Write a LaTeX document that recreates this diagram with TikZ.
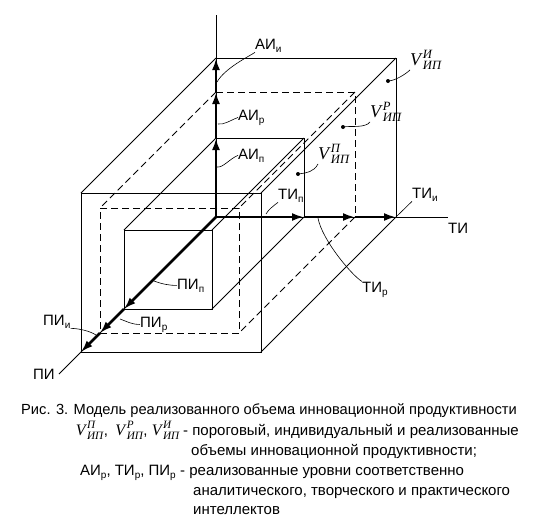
\documentclass[tikz,border=0pt]{standalone}
\usepackage{fontspec}
\usepackage{amsmath}
\setmainfont{Liberation Sans}
\newfontfamily\volfont{Liberation Serif}
\usetikzlibrary{arrows.meta,calc}

% lowered index of a level, e.g. AI_p
\newcommand{\subidx}[1]{\raisebox{-0.4ex}{\fontsize{10}{10}\selectfont #1}}
% volume symbol V^{#2}_{IP}
\newcommand{\Vol}[2][18]{{\fontsize{#1}{#1}\selectfont\volfont\itshape V\/$^{\text{\volfont\itshape #2}}_{\text{\volfont\itshape ИП}}$}}

\begin{document}
\begin{tikzpicture}[x=1pt, y=1pt,
    edge/.style={line width=0.8pt},
    hidden/.style={line width=0.8pt, dash pattern=on 7pt off 4pt},
    level/.style={line width=2.8pt, -{Latex[length=12pt,width=8pt]}},
    leader/.style={line width=0.6pt},
    lbl/.style={font=\fontsize{15}{16}\selectfont, inner sep=0pt, anchor=base west},
    vdot/.style={circle, fill, inner sep=0pt, minimum size=4pt},
    capline/.style={font=\fontsize{15}{17}\selectfont, inner sep=0pt, anchor=base west}]

\useasboundingbox (0,0) rectangle (542,-520);

% oblique frame: x = TI, y = AI, z = PI
\begin{scope}[shift={(216,-217)}, x={(1pt,0pt)}, y={(0pt,1pt)}, z={(-1pt,-1pt)}]
  % threshold, realized (dashed) and individual volumes
  \foreach \w/\h/\d/\lstyle in {88/79/92/edge, 139/125/116/hidden, 180/159/135/edge}{
    \draw[\lstyle] (0,\h,0) -- (\w,\h,0) -- (\w,0,0);
    \draw[\lstyle] (0,0,\d) -- (\w,0,\d) -- (\w,\h,\d) -- (0,\h,\d) -- cycle;
    \draw[\lstyle] (0,\h,0) -- (0,\h,\d);
    \draw[\lstyle] (\w,\h,0) -- (\w,\h,\d);
    \draw[\lstyle] (\w,0,0) -- (\w,0,\d);
  }

  \coordinate (O) at (0,0,0);
  \coordinate (AIend) at (0,202,0);
  \coordinate (TIend) at (232,0,0);
  \coordinate (PIend) at (0,0,157);

  % levels on the axes
  \coordinate (AIp) at (0,79,0);
  \coordinate (AIr) at (0,125,0);
  \coordinate (AIi) at (0,159,0);
  \coordinate (TIp) at (88,0,0);
  \coordinate (TIr) at (139,0,0);
  \coordinate (TIi) at (180,0,0);
  \coordinate (PIp) at (0,0,92);
  \coordinate (PIr) at (0,0,116);
  \coordinate (PIi) at (0,0,135);

  % feet of the label leaders
  \coordinate (fAIi) at (1,135,0);
  \coordinate (fAIr) at (2,93,0);
  \coordinate (fAIp) at (1,50,0);
  \coordinate (fTIp) at (50,3,0);
  \coordinate (fTIr) at (102,-1,0);
  \coordinate (fPIp) at (2,0,64);
  \coordinate (fPIr) at (6,0,102);
  \coordinate (fPIi) at (-2,0,118);
\end{scope}

% axes
\draw[edge] (O) -- (AIend);
\draw[edge] (O) -- (TIend);
\draw[edge] (O) -- (PIend);

\draw[level] (O) -- (AIp);
\draw[level] (AIp) -- (AIr);
\draw[level] (AIr) -- (AIi);
\draw[level] (O) -- (TIp);
\draw[level] (TIp) -- (TIr);
\draw[level] (TIr) -- (TIi);
\draw[level] (O) -- (PIp);
\draw[level] (PIp) -- (PIr);
\draw[level] (PIr) -- (PIi);

% axis labels
\node[lbl] (lAIi) at (255,-49) {АИ\subidx{и}};
\node[lbl] (lAIr) at (238,-120) {АИ\subidx{р}};
\node[lbl] (lAIp) at (238,-159) {АИ\subidx{п}};
\node[lbl] (lTIp) at (278,-199) {ТИ\subidx{п}};
\node[lbl] (lTIi) at (412,-198) {ТИ\subidx{и}};
\node[lbl] (lTIr) at (362,-292) {ТИ\subidx{р}};
\node[lbl] (lTI) at (448,-233) {ТИ};
\node[lbl] (lPIp) at (177,-289) {ПИ\subidx{п}};
\node[lbl] (lPIr) at (140,-327) {ПИ\subidx{р}};
\node[lbl] (lPIi) at (43,-325) {ПИ\subidx{и}};
\node[lbl] (lPI) at (33,-379) {ПИ};

\draw[leader] (lAIi.south west) .. controls +(-6,-4) and +(8,14) .. (fAIi);
\draw[leader] (lAIr.west) .. controls +(-8,-3) and +(6,-1) .. (fAIr);
\draw[leader] (lAIp.west) .. controls +(-8,-3) and +(6,-1) .. (fAIp);
\draw[leader] (lTIp.south west) .. controls +(-4,-3) and +(2,4) .. (fTIp);
\draw[leader] (lTIi.south west) -- (TIi);
\draw[leader] (lTIr.north west) .. controls +(-10,6) and +(4,-22) .. (fTIr);
\draw[leader] (lPIp.west) .. controls +(-8,0) and +(8,-3) .. (fPIp);
\draw[leader] (lPIr.west) .. controls +(-8,0) and +(8,-3) .. (fPIr);
\draw[leader] (lPIi.south east) .. controls +(8,0) and +(-6,4) .. (fPIi);

% volumes
\node[vdot] (dP) at (298,-174) {};
\node[vdot] (dR) at (343,-127) {};
\node[vdot] (dI) at (388,-81) {};
\node[lbl] (vP) at (318,-159) {\Vol{П}};
\node[lbl] (vR) at (370,-117) {\Vol{Р}};
\node[lbl] (vI) at (410,-65) {\Vol{И}};

\draw[leader] (dP) .. controls +(8,1) and +(-4,-8) .. (vP.south west);
\draw[leader] (dR) .. controls +(8,1) and +(-4,-6) .. (vR.south west);
\draw[leader] (dI) .. controls +(8,1) and +(-4,-4) .. (vI.south west);

% caption
\node[capline, font=\fontsize{14.67}{17}\selectfont] (cap1) at (21,-414) {Рис. 3. Модель реализованного объема инновационной продуктивности};
\node[capline, anchor=base east] (cap2a) at (180,-435) {\Vol[16]{П},\enspace\Vol[16]{Р}, \Vol[16]{И}};
\node[capline] (cap2b) at (183,-435) {- пороговый, индивидуальный и реализованные};
\node[capline] (cap3) at (191,-455) {объемы инновационной продуктивности;};
\node[capline, anchor=base east] (cap4a) at (176,-475) {АИ\subidx{р}, ТИ\subidx{р}, ПИ\subidx{р}};
\node[capline] (cap4b) at (180,-475) {- реализованные уровни соответственно};
\node[capline] (cap5) at (193,-495) {аналитического, творческого и практического};
\node[capline] (cap6) at (193,-514) {интеллектов};

\end{tikzpicture}
\end{document}
